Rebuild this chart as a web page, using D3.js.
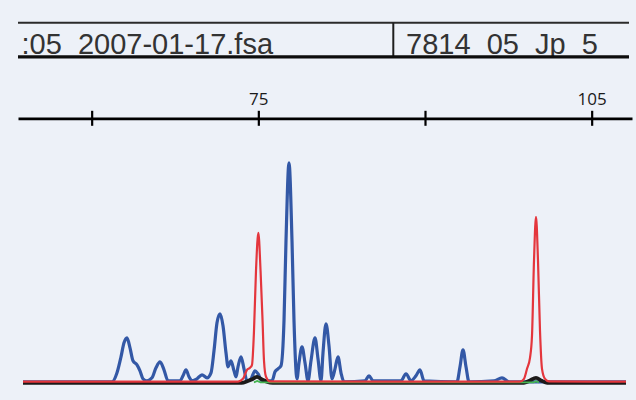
<!DOCTYPE html>
<html>
<head>
<meta charset="utf-8">
<script src="https://cdn.jsdelivr.net/npm/d3@7"></script>
<style>
  html, body { margin: 0; padding: 0; background: #edf1f8; }
  svg { display: block; }
</style>
</head>
<body>
<svg id="chart" width="636" height="400"></svg>
<script>
// ---- data ----
const headerLabels = [":05_2007-01-17.fsa", "7814_05_Jp_5"];
const tickValues = [60, 75, 90, 105];
const tickLabels = ["", "75", "", "105"];
const sizeDomain = [53.37, 108.63];   // base pairs shown
const rfuDomain = [0, 2200];

// [size (bp), signal (rfu)]
const blueTrace = [
  [53.82,10],[61.83,10],[62.28,100],[62.64,260],[62.91,400],[63.18,450],[63.45,350],[63.72,220],
  [64.08,180],[64.35,120],[64.62,40],[64.98,20],[65.43,50],[65.79,150],[66.15,210],[66.51,130],
  [66.87,20],[67.95,20],[68.22,70],[68.49,130],[68.76,60],[69.03,20],[69.48,40],[69.93,80],
  [70.38,50],[70.74,100],[71.01,320],[71.28,600],[71.55,690],[71.82,570],[72.09,300],[72.27,160],
  [72.54,220],[72.81,120],[72.99,60],[73.17,160],[73.44,260],[73.71,140],[73.98,20],[74.34,40],
  [74.70,120],[74.97,90],[75.33,20],[76.23,20],[76.50,110],[76.77,140],[77.04,170],[77.31,620],
  [77.49,1420],[77.76,2200],[78.03,1420],[78.21,620],[78.48,40],[78.66,200],[78.93,360],[79.20,200],
  [79.47,20],[79.74,220],[80.10,450],[80.37,240],[80.64,20],[80.82,300],[81.09,590],[81.36,370],
  [81.63,40],[81.90,140],[82.17,260],[82.44,100],[82.71,10],[84.60,20],[84.96,70],[85.32,20],
  [87.84,20],[88.29,90],[88.74,20],[89.19,70],[89.55,130],[89.91,20],[92.88,10],[93.15,160],
  [93.42,330],[93.69,160],[93.96,10],[96.21,20],[96.93,50],[97.56,10],[98.55,10],[108.09,10]
];
const redTrace = [
  [53.82,12],[73.17,12],[73.62,40],[73.98,130],[74.25,150],[74.43,180],[74.61,520],[74.79,1120],
  [75.00,1500],[75.20,1120],[75.38,620],[75.51,220],[75.69,60],[76.05,14],[98.55,12],[98.91,40],
  [99.18,140],[99.45,250],[99.63,470],[99.81,1220],[99.99,1660],[100.17,1220],[100.35,520],
  [100.53,140],[100.80,40],[101.16,14],[108.09,12]
];
const blackTrace = [
  [53.82,0],[73.50,0],[74.00,15],[74.45,35],[74.88,60],[75.30,35],[75.75,12],[76.30,0],
  [98.90,0],[99.40,20],[99.99,50],[100.50,20],[101.00,0],[108.09,0]
];
const greenTrace = [
  [74.60,5],[74.78,12],[74.90,18],[75.05,12],[75.25,5],
  [99.78,5],[99.90,10],[99.99,16],[100.10,10],[100.25,5]
];

// ---- drawing ----
const svg = d3.select("#chart");
const x = d3.scaleLinear().domain(sizeDomain).range([18, 632]);
const y = d3.scaleLinear().domain(rfuDomain).range([382.8, 162.8]);

// header box
const hdr = svg.append("g");
hdr.append("defs").append("clipPath").attr("id", "hclip")
  .append("rect").attr("x", 18).attr("y", 20).attr("width", 611).attr("height", 36);
hdr.append("line").attr("x1", 18).attr("x2", 629).attr("y1", 22.7).attr("y2", 22.7)
  .attr("stroke", "#2b2b2b").attr("stroke-width", 2);
hdr.append("line").attr("x1", 393.3).attr("x2", 393.3).attr("y1", 22.7).attr("y2", 56)
  .attr("stroke", "#1e1e1e").attr("stroke-width", 2);
const htext = hdr.append("g").attr("clip-path", "url(#hclip)");
htext.selectAll("text").data(headerLabels).join("text")
  .attr("x", (d, i) => i === 0 ? 21.5 : 406)
  .attr("y", 54)
  .style("font-family", "'Liberation Sans', Arial, sans-serif")
  .style("font-size", "29px")
  .attr("fill", "#333")
  .text(d => d);
hdr.append("line").attr("x1", 18).attr("x2", 629).attr("y1", 56.8).attr("y2", 56.8)
  .attr("stroke", "#0d0d0d").attr("stroke-width", 3.2);

// size axis
const axis = d3.axisTop(x)
  .tickValues(tickValues)
  .tickSizeInner(7)
  .tickSizeOuter(0)
  .tickPadding(6)
  .tickFormat((d, i) => tickLabels[i]);
const ax = svg.append("g").attr("transform", "translate(0,118.3)").call(axis);
ax.attr("font-size", null).attr("font-family", null);
ax.select(".domain").attr("stroke", "#000").attr("stroke-width", 2.8);
ax.selectAll(".tick line").attr("y1", 7.5).attr("y2", -7.5)
  .attr("stroke", "#000").attr("stroke-width", 2.2);
ax.selectAll(".tick text")
  .style("font-family", "'Open Sans', sans-serif")
  .style("font-size", "17px")
  .attr("fill", "#1a1a1a");

// traces
const line = d3.line()
  .x(d => x(d[0]))
  .y(d => y(d[1]))
  .curve(d3.curveMonotoneX);

svg.append("path").datum(blueTrace).attr("d", line)
  .attr("fill", "none").attr("stroke", "#3358a6").attr("stroke-width", 3.2)
  .attr("stroke-linejoin", "round");
svg.append("path").datum(blackTrace).attr("d", line)
  .attr("fill", "none").attr("stroke", "#1c1a1a").attr("stroke-width", 3.8)
  .attr("stroke-linejoin", "round");
svg.append("path").datum(greenTrace).attr("d", line)
  .attr("fill", "none").attr("stroke", "#46b552").attr("stroke-width", 1.8);
svg.append("path").datum(redTrace).attr("d", line)
  .attr("fill", "none").attr("stroke", "#e4363d").attr("stroke-width", 2.2)
  .attr("stroke-linejoin", "round");
</script>
</body>
</html>
